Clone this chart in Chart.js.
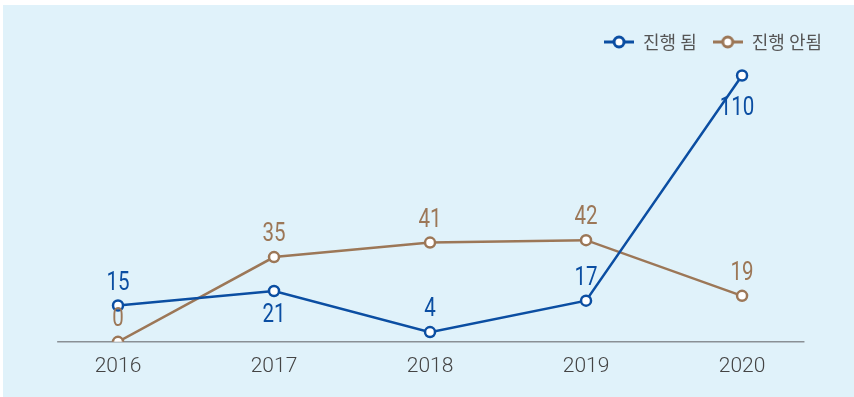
<!DOCTYPE html>
<html>
<head>
<meta charset="utf-8">
<script src="https://cdn.jsdelivr.net/npm/chart.js@4"></script>
<style>
  html, body { margin: 0; padding: 0; background: #fff; }
  #wrap { width: 854px; height: 397px; }
</style>
</head>
<body>
<div id="wrap"><canvas id="progress-graph" width="854" height="397"></canvas></div>
<script>
const years = [2016, 2017, 2018, 2019, 2020];
const doneLabel = "진행 됨";
const notDoneLabel = "진행 안됨";
const doneCounts = [15, 21, 4, 17, 110];
const notDoneCounts = [0, 35, 41, 42, 19];

const BLUE = "#0b4ea2";
const BROWN = "#9c7757";
const NUM_FONT = "Roboto, sans-serif";

// where each value label sits relative to its point
const donePlacement = ["above", "below", "above", "above", "below"];
const notDonePlacement = ["above", "above", "above", "above", "above"];

// visible extent of the baseline, in x-axis units
const AXIS_FROM = 2015.61;
const AXIS_TO = 2020.4;

// small line + hollow circle used as the legend marker
const legendMarker = (color) => {
  const c = document.createElement("canvas");
  c.width = 30;
  c.height = 14;
  const g = c.getContext("2d");
  g.strokeStyle = color;
  g.lineWidth = 3;
  g.beginPath();
  g.moveTo(0, 7);
  g.lineTo(30, 7);
  g.stroke();
  g.beginPath();
  g.arc(15, 7, 5, 0, Math.PI * 2);
  g.fillStyle = "#fff";
  g.fill();
  g.stroke();
  return c;
};

const panelBackground = {
  id: "panelBackground",
  beforeDraw(chart) {
    const { ctx } = chart;
    ctx.save();
    ctx.fillStyle = "#e0f2fa";
    ctx.fillRect(3, 5, chart.width - 3, chart.height - 5);
    ctx.restore();
  },
};

const baseline = {
  id: "baseline",
  beforeDatasetsDraw(chart) {
    const { ctx, scales } = chart;
    const y = scales.y.getPixelForValue(0);
    ctx.save();
    ctx.strokeStyle = "#8a9095";
    ctx.lineWidth = 1.5;
    ctx.beginPath();
    ctx.moveTo(scales.x.getPixelForValue(AXIS_FROM), y);
    ctx.lineTo(scales.x.getPixelForValue(AXIS_TO), y);
    ctx.stroke();
    ctx.restore();
  },
};

const valueLabels = {
  id: "valueLabels",
  afterDatasetsDraw(chart) {
    const { ctx } = chart;
    chart.data.datasets.forEach((ds, i) => {
      const meta = chart.getDatasetMeta(i);
      meta.data.forEach((pt, j) => {
        const where = ds.placement[j];
        let dy = where === "above" ? -22 : 25;
        let dx = 0;
        if (where === "below" && ds.data[j].y > 100) {
          dy = 33;
          dx = -5;
        }
        ctx.save();
        ctx.translate(pt.x + dx, pt.y + dy);
        ctx.scale(0.82, 1);
        ctx.font = "25px " + NUM_FONT;
        ctx.textAlign = "center";
        ctx.textBaseline = "middle";
        ctx.fillStyle = ds.borderColor;
        ctx.fillText(String(ds.data[j].y), 0, 0);
        ctx.restore();
      });
    });
  },
};

const toPoints = (vals) => vals.map((v, i) => ({ x: years[i], y: v }));

const ctx = document.getElementById("progress-graph").getContext("2d");

new Chart(ctx, {
  type: "line",
  data: {
    datasets: [
      {
        label: doneLabel,
        data: toPoints(doneCounts),
        borderColor: BLUE,
        backgroundColor: "#fff",
        borderWidth: 2.5,
        pointRadius: 5,
        pointBorderWidth: 2.5,
        pointBackgroundColor: "#fff",
        placement: donePlacement,
        marker: legendMarker(BLUE),
      },
      {
        label: notDoneLabel,
        data: toPoints(notDoneCounts),
        borderColor: BROWN,
        backgroundColor: "#fff",
        borderWidth: 2.5,
        pointRadius: 5,
        pointBorderWidth: 2.5,
        pointBackgroundColor: "#fff",
        placement: notDonePlacement,
        marker: legendMarker(BROWN),
      },
    ],
  },
  options: {
    responsive: false,
    animation: false,
    layout: { padding: { left: 57, right: 16, top: 17, bottom: 6 } },
    plugins: {
      tooltip: { enabled: false },
      legend: {
        position: "top",
        align: "end",
        labels: {
          usePointStyle: true,
          pointStyleWidth: 30,
          color: "#555",
          padding: 16,
          font: { family: "'Noto Sans CJK KR', sans-serif", size: 18 },
          generateLabels(chart) {
            return chart.data.datasets.map((ds, i) => ({
              text: ds.label,
              pointStyle: ds.marker,
              fontColor: "#555",
              strokeStyle: ds.borderColor,
              fillStyle: "#fff",
              lineWidth: 0,
              datasetIndex: i,
            }));
          },
        },
      },
    },
    scales: {
      x: {
        type: "linear",
        min: 2015.609,
        max: 2020.615,
        grid: { display: false, drawTicks: false },
        border: { display: false },
        afterBuildTicks(scale) {
          scale.ticks = years.map((y) => ({ value: y }));
        },
        ticks: {
          color: "#444",
          padding: 12,
          font: { family: NUM_FONT, size: 21, weight: 300 },
          callback: (v) => String(v),
        },
      },
      y: {
        display: false,
        min: 0,
        max: 116,
      },
    },
  },
  plugins: [panelBackground, baseline, valueLabels],
});
</script>
</body>
</html>
